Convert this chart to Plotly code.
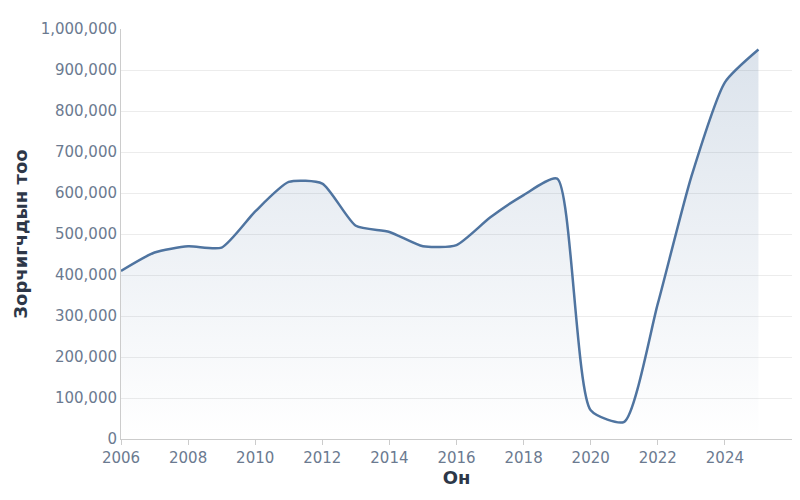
import plotly.graph_objects as go

years = list(range(2006, 2026))
visitors = [410000, 455000, 470000, 467000, 555000, 627000, 623000, 520000, 505000, 470000,
            473000, 540000, 595000, 635000, 70000, 42000, 330000, 640000, 870000, 950000]

fig = go.Figure(go.Scatter(
    x=years, y=visitors, mode="lines",
    line=dict(color="#4f74a0", width=2.5, shape="spline", smoothing=0.6),
    fill="tozeroy",
    fillgradient=dict(type="vertical",
                      colorscale=[[0, "rgba(79,116,160,0.0)"], [1, "rgba(79,116,160,0.2)"]]),
    hoverinfo="x+y"))

fig.update_layout(
    width=800, height=500, plot_bgcolor="white", paper_bgcolor="white",
    margin=dict(l=113, r=16, t=21, b=69), showlegend=False,
    font=dict(family="DejaVu Sans", size=15, color="#6b7a90"),
    xaxis=dict(range=[2006, 2026], tickvals=list(range(2006, 2027, 2)), showgrid=False,
               showline=True, linecolor="#cccccc", ticks="outside", tickcolor="#cccccc",
               title=dict(text="<b>Он</b>", font=dict(size=18, color="#2d3748"), standoff=5)),
    yaxis=dict(range=[0, 1000000], dtick=100000, tickformat=",", gridcolor="#ececec",
               showline=True, linecolor="#cccccc", zeroline=False,
               title=dict(text="<b>Зорчигчдын тоо</b>", font=dict(size=18, color="#2d3748"), standoff=8)),
)
fig.write_html("out.html")
